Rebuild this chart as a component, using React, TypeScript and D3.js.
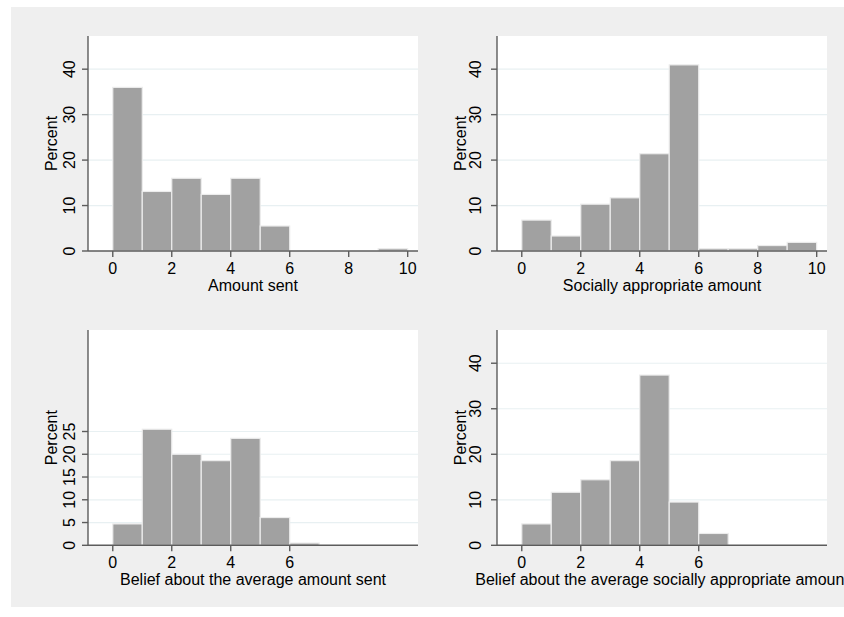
import React from "react";
import * as d3 from "d3";

// Histogram bin heights (percent), bins of width 1 starting at 0
const amountSent = [36.0, 13.1, 16.0, 12.45, 16.0, 5.5, 0, 0, 0, 0.5];
const sociallyAppropriate = [6.8, 3.3, 10.3, 11.7, 21.4, 40.95, 0.5, 0.5, 1.2, 1.9];
const beliefSent = [4.7, 25.5, 20.0, 18.6, 23.5, 6.1, 0.5];
const beliefAppropriate = [4.7, 11.65, 14.4, 18.6, 37.4, 9.5, 2.6];

const titles = [
  "Amount sent",
  "Socially appropriate amount",
  "Belief about the average amount sent",
  "Belief about the average socially appropriate amount",
];
const yTicksMain = [0, 10, 20, 30, 40];
const yTicksFine = [0, 5, 10, 15, 20, 25];
const xTicksFull = [0, 2, 4, 6, 8, 10];
const xTicksShort = [0, 2, 4, 6];
const yLabel = "Percent";

const FONT = "'Liberation Sans', Arial, Helvetica, sans-serif";

type PanelProps = {
  values: number[];
  title: string;
  yTicks: number[];
  xTicks: number[];
  left: number;
  top: number;
  bottom: number;
  tickGap: number;
};

function Panel({ values, title, yTicks, xTicks, left, top, bottom, tickGap }: PanelProps) {
  const width = 330;
  const x = d3.scaleLinear().domain([-0.84, 10.35]).range([left, left + width]);
  const y = d3.scaleLinear().domain([0, 47.3]).range([bottom, top]);
  const axisColor = "#5c5c5c";
  return (
    <g>
      <rect x={left} y={top} width={width} height={bottom - top} fill="#ffffff" />
      {yTicks.filter((t) => t !== 0).map((t) => (
        <line key={"g" + t} x1={left} x2={left + width} y1={y(t)} y2={y(t)} stroke="#e8f0f2" strokeWidth={1.2} />
      ))}
      {values.map((v, i) =>
        v > 0 ? (
          <rect
            key={"b" + i}
            x={x(i)}
            y={y(v)}
            width={x(i + 1) - x(i)}
            height={y(0) - y(v)}
            fill="#a1a1a1"
            stroke="#ececec"
            strokeWidth={1.2}
          />
        ) : null
      )}
      <line x1={left} x2={left} y1={top} y2={bottom} stroke={axisColor} strokeWidth={1.4} />
      <line x1={left} x2={left + width} y1={bottom} y2={bottom} stroke={axisColor} strokeWidth={1.4} />
      {yTicks.map((t) => (
        <g key={"y" + t}>
          <line x1={left - 6} x2={left} y1={y(t)} y2={y(t)} stroke={axisColor} strokeWidth={1.4} />
          <text
            transform={`translate(${left - tickGap},${y(t)}) rotate(-90)`}
            textAnchor="middle"
            fontFamily={FONT}
            fontSize={16}
            fill="#000"
          >
            {t}
          </text>
        </g>
      ))}
      {xTicks.map((t) => (
        <g key={"x" + t}>
          <line x1={x(t)} x2={x(t)} y1={bottom} y2={bottom + 6} stroke={axisColor} strokeWidth={1.4} />
          <text x={x(t)} y={bottom + 22.5} textAnchor="middle" fontFamily={FONT} fontSize={16} fill="#000">
            {t}
          </text>
        </g>
      ))}
      <text
        transform={`translate(${left - 31},${(top + bottom) / 2}) rotate(-90)`}
        textAnchor="middle"
        fontFamily={FONT}
        fontSize={16}
        fill="#000"
      >
        {yLabel}
      </text>
      <text x={left + width / 2} y={bottom + 39.5} textAnchor="middle" fontFamily={FONT} fontSize={16} fill="#000">
        {title}
      </text>
    </g>
  );
}

export default function App() {
  const cols = [88, 497];
  const rows = [
    [36, 251],
    [330, 545.3],
  ];
  const gaps = [13, 16];
  return (
    <svg width={844} height={617} style={{ position: "absolute", left: 0, top: 0 }}>
      <rect x={0} y={0} width={844} height={617} fill="#ffffff" />
      <rect x={11} y={7} width={833} height={600} fill="#efefef" />
      <Panel values={amountSent} title={titles[0]} yTicks={yTicksMain} xTicks={xTicksFull} left={cols[0]} top={rows[0][0]} bottom={rows[0][1]} tickGap={gaps[0]} />
      <Panel values={sociallyAppropriate} title={titles[1]} yTicks={yTicksMain} xTicks={xTicksFull} left={cols[1]} top={rows[0][0]} bottom={rows[0][1]} tickGap={gaps[1]} />
      <Panel values={beliefSent} title={titles[2]} yTicks={yTicksFine} xTicks={xTicksShort} left={cols[0]} top={rows[1][0]} bottom={rows[1][1]} tickGap={gaps[0]} />
      <Panel values={beliefAppropriate} title={titles[3]} yTicks={yTicksMain} xTicks={xTicksShort} left={cols[1]} top={rows[1][0]} bottom={rows[1][1]} tickGap={gaps[1]} />
    </svg>
  );
}
